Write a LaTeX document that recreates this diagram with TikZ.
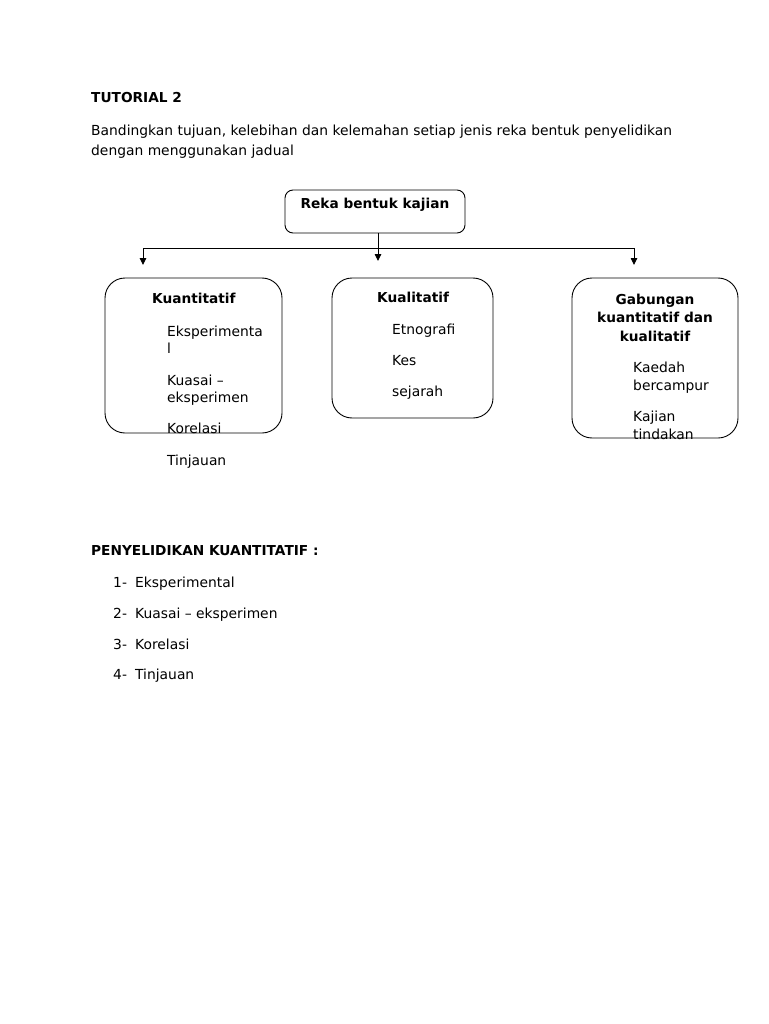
\documentclass[tikz,border=0pt]{standalone}
\usepackage{fontspec}
\setmainfont{DejaVu Sans}
\usetikzlibrary{arrows.meta}
\begin{document}
\begin{tikzpicture}[x=1pt,y=-1pt,
  txt/.style={anchor=base west,inner sep=0pt,font=\fontsize{13.85}{17}\selectfont},
  btxt/.style={anchor=base west,inner sep=0pt,font=\fontsize{13.7}{17}\selectfont\bfseries},
  ctxt/.style={anchor=base,inner sep=0pt,font=\fontsize{13.7}{17}\selectfont\bfseries},
  rbox/.style={draw=black,line width=0.9pt,rounded corners=20pt,inner sep=0pt},
  conn/.style={draw=black,line width=0.9pt},
  arr/.style={conn,-{Triangle[length=7pt,width=6.5pt]}}
]
\useasboundingbox (0,0) rectangle (768,1024);
\fill[white] (0,0) rectangle (768,1024);

% header
\node[btxt] (title) at (91,103) {TUTORIAL 2};
\node[txt] (p1) at (91,136) {Bandingkan tujuan, kelebihan dan kelemahan setiap jenis reka bentuk penyelidikan};
\node[txt] (p2) at (91,156) {dengan menggunakan jadual};

% top box
\node[draw=black,line width=0.9pt,rounded corners=8pt,minimum width=180pt,minimum height=43pt,inner sep=0pt] (reka) at (375,211.5) {};
\node[ctxt] (rekat) at (375,209) {Reka bentuk kajian};

% connectors
\coordinate (hl) at (143,248);
\coordinate (hr) at (634,248);
\coordinate (tl) at (143,265);
\coordinate (tr) at (634,265);
\coordinate (tm) at (378,261);
\coordinate (rs) at (378,233);
\draw[conn] (hl) -- (hr);
\draw[arr] (rs) -- (tm);
\draw[arr] (hl) -- (tl);
\draw[arr] (hr) -- (tr);

% boxes
\node[rbox,minimum width=177pt,minimum height=155pt] (kuan) at (193.5,355.5) {};
\node[rbox,minimum width=161pt,minimum height=140pt] (kual) at (412.5,348) {};
\node[rbox,minimum width=166pt,minimum height=160pt] (gab) at (655,358) {};

% box 1 text
\node[btxt] (k1h) at (152,303) {Kuantitatif};
\node[txt] (k1a) at (167,336) {Eksperimenta};
\node[txt] (k1b) at (167,353) {l};
\node[txt] (k1c) at (167,385) {Kuasai –};
\node[txt] (k1d) at (167,402) {eksperimen};
\node[txt] (k1e) at (167,433) {Korelasi};
\node[txt] (k1f) at (167,465) {Tinjauan};

% box 2 text
\node[btxt] (k2h) at (377,302) {Kualitatif};
\node[txt] (k2a) at (392,334) {Etnografi};
\node[txt] (k2b) at (392,365) {Kes};
\node[txt] (k2c) at (392,396) {sejarah};

% box 3 text
\node[ctxt] (k3h1) at (655,304) {Gabungan};
\node[ctxt] (k3h2) at (655,322) {kuantitatif dan};
\node[ctxt] (k3h3) at (655,341) {kualitatif};
\node[txt] (k3a) at (633,372) {Kaedah};
\node[txt] (k3b) at (633,390) {bercampur};
\node[txt] (k3c) at (633,421) {Kajian};
\node[txt] (k3d) at (633,439) {tindakan};

% bottom list
\node[btxt] (pk) at (91,555) {PENYELIDIKAN KUANTITATIF :};
\node[txt] (n1) at (113,587) {1-};
\node[txt] (l1) at (135,587) {Eksperimental};
\node[txt] (n2) at (113,618) {2-};
\node[txt] (l2) at (135,618) {Kuasai – eksperimen};
\node[txt] (n3) at (113,649) {3-};
\node[txt] (l3) at (135,649) {Korelasi};
\node[txt] (n4) at (113,679) {4-};
\node[txt] (l4) at (135,679) {Tinjauan};
\end{tikzpicture}
\end{document}
